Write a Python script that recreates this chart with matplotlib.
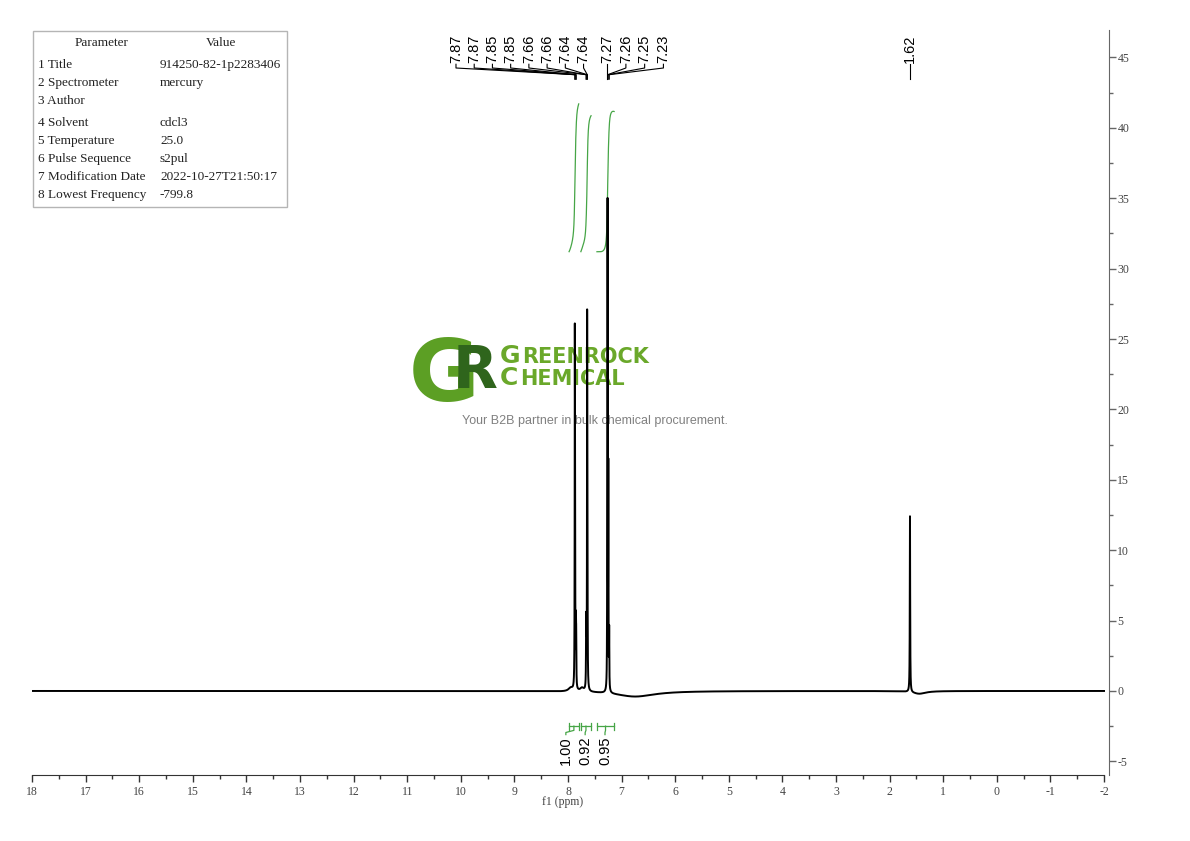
import numpy as np
import matplotlib.pyplot as plt
from matplotlib.patches import Rectangle
from matplotlib.transforms import blended_transform_factory

plt.rcParams['axes.unicode_minus'] = False

# lines: position (ppm), height, half width (ppm)
line_ppm = [7.873, 7.868, 7.852, 7.847, 7.662, 7.657, 7.643, 7.638,
            7.270, 7.262, 7.248, 7.232, 1.620]
line_height = [22.5, 13, 4, 3, 4, 3, 23.2, 14, 4, 34, 15, 4, 12.5]
line_hw = [0.003] * 12 + [0.004]

# slow baseline wander around the peaks
base_ppm = [7.95, 7.74, 6.75, 1.45]
base_height = [0.25, 0.25, -0.4, -0.2]
base_hw = [0.05, 0.04, 0.45, 0.15]

peak_labels = ['7.87', '7.87', '7.85', '7.85', '7.66', '7.66', '7.64', '7.64',
               '7.27', '7.26', '7.25', '7.23']

int_lo = [7.80, 7.57, 7.14]
int_hi = [7.98, 7.76, 7.46]
int_values = [1.00, 0.92, 0.95]

param_names = ['1 Title', '2 Spectrometer', '3 Author', '4 Solvent', '5 Temperature',
               '6 Pulse Sequence', '7 Modification Date', '8 Lowest Frequency']
param_values = ['914250-82-1p2283406', 'mercury', '', 'cdcl3', '25.0', 's2pul',
                '2022-10-27T21:50:17', '-799.8']


def lorentz(x, pos, h, w):
    return h / (1 + ((x - pos) / w) ** 2)


ppm = np.linspace(18, -2, 40001)
spec = np.zeros_like(ppm)
for p, h, w in zip(line_ppm, line_height, line_hw):
    spec += lorentz(ppm, p, h, w)
for p, h, w in zip(base_ppm, base_height, base_hw):
    spec += lorentz(ppm, p, h, w)


def fx(x):
    return x / 1190


def fy(y):
    return 1 - y / 841


fig = plt.figure(figsize=(11.9, 8.41), dpi=100)
ax = fig.add_axes([fx(32), fy(775), fx(1109) - fx(32), fy(30) - fy(775)])
ax.set_facecolor('none')

ax.plot(ppm, spec, color='black', lw=1.4, zorder=3)

ax.set_xlim(18, -2.093)
ax.set_ylim(-5.97, 46.95)

ax.spines['left'].set_visible(False)
ax.spines['top'].set_visible(False)
ax.spines['bottom'].set_bounds(18, -2)
ax.spines['bottom'].set_color('#333333')
ax.spines['right'].set_color('#666666')
ax.yaxis.tick_right()
ax.set_xticks(np.arange(18, -3, -1))
ax.set_xticks(np.arange(17.5, -2, -1), minor=True)
ax.set_yticks(np.arange(-5, 50, 5))
ax.set_yticks(np.arange(-2.5, 47, 5), minor=True)
ax.tick_params(axis='x', which='major', length=5, width=1, color='#333333', pad=3)
ax.tick_params(axis='x', which='minor', length=3, width=1, color='#333333')
ax.tick_params(axis='y', which='major', length=5, width=1, color='#666666', pad=1)
ax.tick_params(axis='y', which='minor', length=3, width=1, color='#666666')
for lab in ax.get_xticklabels() + ax.get_yticklabels():
    lab.set_family('Liberation Serif')
    lab.set_fontsize(8.5)
    lab.set_color('#444444')
ax.set_xlabel('f1 (ppm)', family='Liberation Serif', fontsize=8.5, color='#444444')
ax.xaxis.set_label_coords(0.493, -0.028)

# peak labels at the top
tr = blended_transform_factory(ax.transData, ax.transAxes)
label_x = [10.09 - 0.34 * i for i in range(8)] + [7.27 - 0.35 * i for i in range(4)]
for lx, lab in zip(label_x, peak_labels):
    target = float(lab)
    ax.text(lx, 0.956, lab, rotation=90, ha='center', va='bottom', fontsize=10.5,
            family='Liberation Sans', transform=tr)
    ax.plot([lx, lx, target, target], [0.954, 0.949, 0.940, 0.934],
            color='black', lw=0.8, transform=tr, clip_on=False)
ax.text(1.62, 0.956, '1.62', rotation=90, ha='center', va='bottom', fontsize=10.5,
        family='Liberation Sans', transform=tr)
ax.plot([1.62, 1.62], [0.954, 0.934], color='black', lw=0.8, transform=tr)

# integral curves and brackets
green = '#46a546'
int_scale = 10.5
int_base = 31.2
int_label_x = [8.04, 7.68, 7.31]
for lo, hi, val, lx in zip(int_lo, int_hi, int_values, int_label_x):
    m = (ppm <= hi) & (ppm >= lo)
    seg = np.zeros(m.sum())
    for p, h, w in zip(line_ppm, line_height, line_hw):
        seg += lorentz(ppm[m], p, h * w / 0.012, 0.012)
    for p, h, w in zip(base_ppm, base_height, base_hw):
        seg += lorentz(ppm[m], p, h, w)
    cum = np.cumsum(seg)
    cum = cum / cum.max() * val * int_scale + int_base
    ax.plot(ppm[m], cum, color=green, lw=0.9, zorder=2)
    mid = (lo + hi) / 2
    ax.plot([hi, lo], [-2.5, -2.5], color=green, lw=0.9)
    ax.plot([hi, hi], [-2.25, -2.75], color=green, lw=0.9)
    ax.plot([lo, lo], [-2.25, -2.75], color=green, lw=0.9)
    ax.plot([mid, mid, lx, lx], [-2.5, -2.8, -2.95, -3.1], color=green, lw=0.9)
    ax.text(lx, -3.2, f'{val:.2f}', rotation=90, ha='center', va='top', fontsize=10.5,
            family='Liberation Sans')

# parameter table
fig.add_artist(Rectangle((fx(33), fy(207)), fx(287) - fx(33), fy(31) - fy(207),
                         transform=fig.transFigure, fill=False, edgecolor='#b5b5b5', lw=1))
fig.text(fx(102), fy(43), 'Parameter', ha='center', va='center', fontsize=9.5,
         family='Liberation Serif', color='#222222')
fig.text(fx(221), fy(43), 'Value', ha='center', va='center', fontsize=9.5,
         family='Liberation Serif', color='#222222')
row_y = [65, 83, 101, 123, 141, 159, 177, 195]
for y, name, val in zip(row_y, param_names, param_values):
    fig.text(fx(38), fy(y), name, ha='left', va='center', fontsize=9.5,
             family='Liberation Serif', color='#222222')
    fig.text(fx(160), fy(y), val, ha='left', va='center', fontsize=9.5,
             family='Liberation Serif', color='#222222')

# watermark logo behind the spectrum
fig.text(fx(409), fy(401), 'G', color='#5c9f24', fontsize=62, fontweight='bold',
         family='DejaVu Sans', ha='left', va='baseline', zorder=-1)
fig.text(fx(453), fy(388), 'R', color='#2f651c', fontsize=42, fontweight='bold',
         family='DejaVu Sans', ha='left', va='baseline', zorder=-1)
fig.text(fx(500), fy(363), 'G', color='#6aa82a', fontsize=18, fontweight='bold',
         family='DejaVu Sans', ha='left', va='baseline', zorder=-1)
fig.text(fx(522), fy(363), 'REENROCK', color='#6aa82a', fontsize=15, fontweight='bold',
         family='DejaVu Sans', ha='left', va='baseline', zorder=-1)
fig.text(fx(500), fy(385), 'C', color='#6aa82a', fontsize=18, fontweight='bold',
         family='DejaVu Sans', ha='left', va='baseline', zorder=-1)
fig.text(fx(520), fy(385), 'HEMICAL', color='#6aa82a', fontsize=15, fontweight='bold',
         family='DejaVu Sans', ha='left', va='baseline', zorder=-1)
fig.text(fx(595), fy(421), 'Your B2B partner in bulk chemical procurement.', color='#808080',
         fontsize=9, family='Liberation Sans', ha='center', va='center', zorder=-1)

fig.savefig('out.png', dpi=100)
